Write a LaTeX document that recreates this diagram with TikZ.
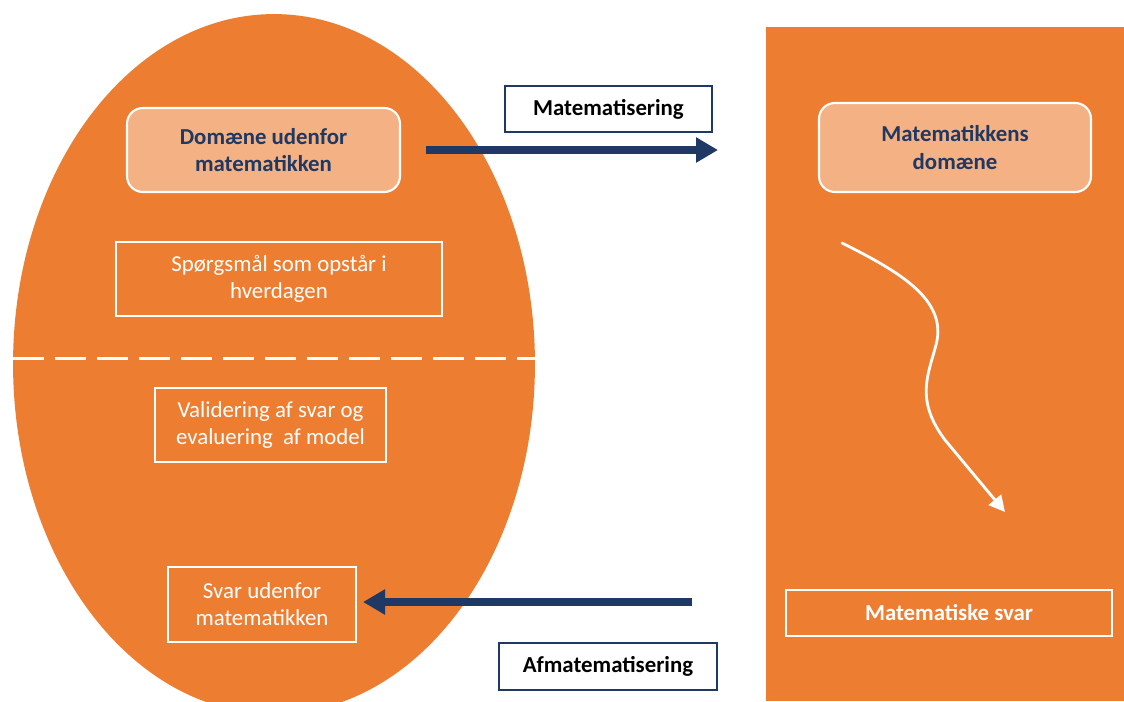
\documentclass[tikz,border=0pt]{standalone}
\usepackage{fontspec}
\setmainfont{Carlito}
\usetikzlibrary{arrows.meta}

\definecolor{egg}{HTML}{ED7D31}
\definecolor{peach}{HTML}{F4B183}
\definecolor{navy}{HTML}{1F3864}

\begin{document}
\begin{tikzpicture}[x=0.02cm, y=-0.02cm,
    txt/.style={font=\fontsize{13}{15.5}\selectfont, align=center, inner sep=0pt},
    whitebox/.style={txt, draw=white, line width=1.2pt, text=white},
    domainbox/.style={txt, font=\fontsize{13}{15.5}\selectfont\bfseries, text=navy,
        fill=peach, draw=white, line width=1.2pt, rounded corners=9pt},
    labelbox/.style={txt, font=\fontsize{13}{15.5}\selectfont\bfseries, text=black,
        fill=white, draw=navy, line width=1.2pt},
    bigarrow/.style={navy, line width=4.5pt, -{Triangle[length=0.44cm,width=0.48cm]}}]
    \useasboundingbox (0,0) rectangle (1124,701);
    \clip (0,0) rectangle (1124,701);

    % the everyday world and the world of mathematics
    \fill[egg] (274,364) ellipse [x radius=5.22cm, y radius=7.0cm];
    \fill[egg] (766,27) rectangle (1124,701);
    \draw[white, line width=1.7pt, dash pattern=on 0.62cm off 0.22cm] (13,358) -- (535,358);

    % left side
    \node[domainbox, minimum width=5.46cm, minimum height=1.68cm] (domaene) at (263.5,150)
        {Domæne udenfor\\matematikken};
    \node[whitebox, minimum width=6.52cm, minimum height=1.48cm] (spoergsmaal) at (279,279)
        {Spørgsmål som opstår i\\hverdagen};
    \node[whitebox, minimum width=4.62cm, minimum height=1.48cm] (validering) at (270.5,425)
        {Validering af svar og\\evaluering\ \ af model};
    \node[whitebox, minimum width=3.76cm, minimum height=1.5cm] (svarud) at (262,604.5)
        {Svar udenfor\\matematikken};

    % right side
    \node[domainbox, minimum width=5.44cm, minimum height=1.78cm] (matdomaene) at (955,147.5)
        {Matematikkens\\domæne};
    \node[whitebox, font=\fontsize{13}{15.5}\selectfont\bfseries,
        minimum width=6.52cm, minimum height=0.92cm] (matsvar) at (949,613)
        {Matematiske svar};

    % labels for the two arrows
    \node[labelbox, minimum width=4.14cm, minimum height=0.92cm] (labmat) at (608.5,109)
        {Matematisering};
    \node[labelbox, minimum width=4.36cm, minimum height=0.94cm] (labafmat) at (608,666.5)
        {Afmatematisering};

    \coordinate (matend) at (718,150);
    \coordinate (afstart) at (692,602);
    \draw[bigarrow, shorten <=0.5cm] (domaene.east) -- (matend);
    \draw[bigarrow, shorten >=0.12cm] (afstart) -- (svarud.east |- afstart);

    % working inside mathematics
    \coordinate (wstart) at (842,243);
    \coordinate (wend) at (1005,512);
    \draw[white, line width=1.6pt, line cap=round, -{Triangle[length=0.32cm,width=0.32cm]}]
        (wstart) .. controls (900,272) and (948,300) .. (936,345)
        .. controls (928,375) and (915,400) .. (945,440) -- (wend);
\end{tikzpicture}
\end{document}
